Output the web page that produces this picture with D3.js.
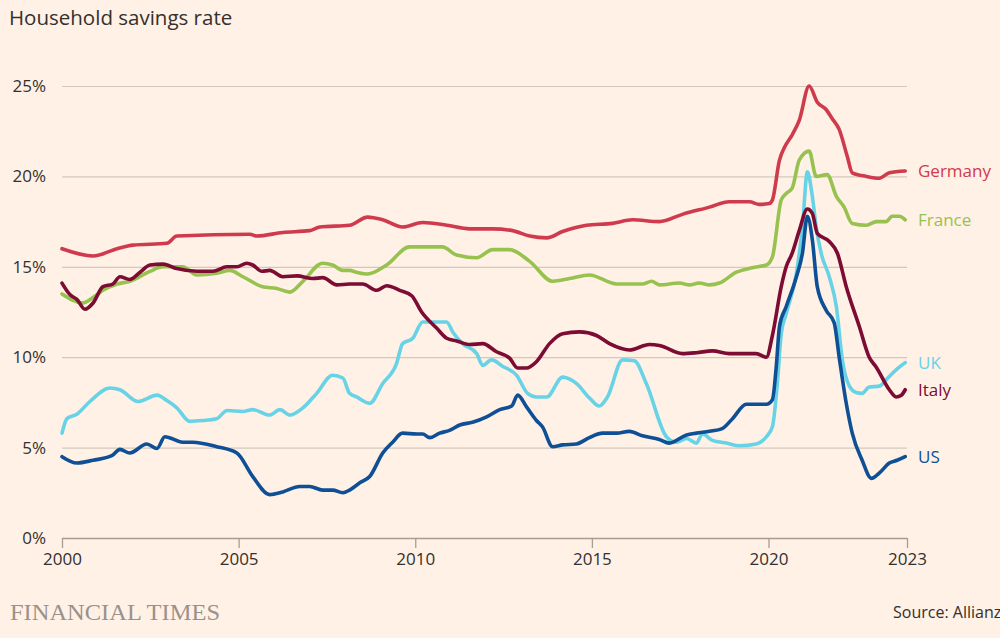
<!DOCTYPE html>
<html>
<head>
<meta charset="utf-8">
<script src="https://cdn.jsdelivr.net/npm/d3@7"></script>
<style>
  html, body { margin: 0; padding: 0; background: #fff1e5; }
  svg { display: block; }
</style>
</head>
<body>
<svg id="chart" width="1000" height="638"></svg>
<script>
// ---- Data ----
const germany = [[2000.00,16.0],[2000.88,15.6],[2001.56,16.0],[2002.01,16.2],[2002.97,16.3],[2003.25,16.7],[2005.32,16.8],[2005.51,16.7],[2006.25,16.9],[2007.01,17.0],[2007.30,17.2],[2008.14,17.3],[2008.65,17.75],[2009.08,17.6],[2009.64,17.2],[2010.21,17.45],[2010.89,17.3],[2011.54,17.1],[2012.19,17.1],[2012.75,17.0],[2013.24,16.7],[2013.72,16.6],[2014.17,16.95],[2014.85,17.3],[2015.58,17.4],[2016.15,17.6],[2016.91,17.5],[2017.56,17.9],[2018.33,18.3],[2018.89,18.6],[2019.46,18.6],[2019.74,18.45],[2020.02,18.5],[2020.11,18.7],[2020.31,20.9],[2020.45,21.6],[2020.67,22.3],[2020.87,23.1],[2021.15,25.0],[2021.38,24.1],[2021.63,23.7],[2021.80,23.2],[2022.00,22.6],[2022.23,21.1],[2022.37,20.2],[2022.77,20.0],[2023.14,19.9],[2023.42,20.2],[2023.87,20.3]];

const france = [[2000.00,13.5],[2000.59,13.0],[2000.88,13.3],[2001.16,13.7],[2001.56,14.05],[2001.92,14.2],[2002.49,14.75],[2002.86,15.0],[2003.42,15.0],[2003.82,14.55],[2004.38,14.65],[2004.75,14.8],[2005.12,14.45],[2005.68,13.9],[2006.08,13.8],[2006.45,13.6],[2006.82,14.2],[2007.38,15.2],[2007.66,15.1],[2007.95,14.8],[2008.14,14.8],[2008.34,14.7],[2008.65,14.6],[2009.19,15.1],[2009.84,16.1],[2010.77,16.1],[2011.17,15.65],[2011.74,15.5],[2012.19,15.95],[2012.67,15.95],[2013.24,15.3],[2013.89,14.2],[2014.37,14.35],[2014.93,14.55],[2015.70,14.05],[2016.43,14.05],[2016.69,14.2],[2016.91,14.0],[2017.48,14.1],[2017.76,14.0],[2018.04,14.1],[2018.33,14.0],[2018.61,14.1],[2019.09,14.7],[2019.54,14.95],[2019.94,15.1],[2020.11,15.55],[2020.36,18.7],[2020.50,19.05],[2020.67,19.35],[2020.87,20.9],[2021.15,21.4],[2021.35,20.0],[2021.66,20.1],[2021.92,18.9],[2022.14,18.3],[2022.37,17.4],[2022.77,17.3],[2023.05,17.5],[2023.33,17.5],[2023.50,17.8],[2023.70,17.8],[2023.87,17.6]];

const italy = [[2000.00,14.1],[2000.23,13.45],[2000.42,13.2],[2000.65,12.65],[2000.88,13.0],[2001.16,13.9],[2001.44,14.05],[2001.64,14.45],[2001.92,14.3],[2002.21,14.7],[2002.49,15.1],[2002.86,15.15],[2003.25,14.9],[2003.82,14.75],[2004.27,14.75],[2004.67,15.0],[2004.95,15.0],[2005.23,15.2],[2005.40,15.1],[2005.66,14.75],[2005.88,14.8],[2006.25,14.45],[2006.65,14.5],[2007.10,14.35],[2007.38,14.4],[2007.78,14.0],[2008.14,14.05],[2008.51,14.05],[2008.91,13.7],[2009.19,13.95],[2009.56,13.7],[2009.90,13.4],[2010.18,12.5],[2010.61,11.6],[2010.89,11.05],[2011.17,10.9],[2011.54,10.7],[2011.91,10.75],[2012.30,10.3],[2012.67,9.95],[2012.90,9.4],[2013.15,9.4],[2013.43,9.75],[2013.80,10.75],[2014.17,11.3],[2014.65,11.4],[2015.13,11.2],[2015.50,10.75],[2016.06,10.4],[2016.63,10.7],[2016.91,10.65],[2017.56,10.2],[2017.96,10.25],[2018.41,10.35],[2018.89,10.2],[2019.65,10.2],[2019.94,10.0],[2020.11,11.2],[2020.36,13.9],[2020.50,15.0],[2020.67,15.75],[2020.87,17.0],[2021.10,18.2],[2021.24,17.95],[2021.38,16.85],[2021.72,16.4],[2021.95,15.75],[2022.20,13.9],[2022.57,11.7],[2022.85,10.0],[2023.05,9.45],[2023.42,8.2],[2023.61,7.8],[2023.76,7.9],[2023.87,8.2]];

const uk = [[2000.00,5.8],[2000.14,6.6],[2000.42,6.85],[2000.79,7.55],[2001.36,8.3],[2001.64,8.2],[2002.15,7.55],[2002.69,7.9],[2002.97,7.6],[2003.25,7.2],[2003.62,6.45],[2003.99,6.5],[2004.38,6.6],[2004.67,7.05],[2005.12,7.0],[2005.40,7.1],[2005.88,6.8],[2006.17,7.1],[2006.45,6.8],[2006.82,7.2],[2007.21,8.0],[2007.66,9.0],[2007.95,8.85],[2008.14,8.0],[2008.34,7.8],[2008.71,7.45],[2009.08,8.55],[2009.47,9.65],[2009.64,10.75],[2009.93,11.05],[2010.21,11.95],[2010.89,11.95],[2011.06,11.4],[2011.34,10.75],[2011.74,10.2],[2011.91,9.55],[2012.16,9.85],[2012.47,9.5],[2012.87,9.0],[2013.18,8.0],[2013.43,7.8],[2013.72,7.8],[2014.17,8.9],[2014.56,8.55],[2014.93,7.75],[2015.21,7.3],[2015.44,7.8],[2015.87,9.85],[2016.20,9.8],[2016.54,8.55],[2017.11,5.6],[2017.39,5.3],[2017.68,5.5],[2017.96,5.25],[2018.13,5.75],[2018.41,5.4],[2018.81,5.25],[2019.17,5.1],[2019.65,5.2],[2019.94,5.6],[2020.11,6.15],[2020.25,8.55],[2020.36,11.3],[2020.50,12.4],[2020.79,14.65],[2020.96,17.2],[2021.10,20.25],[2021.24,18.9],[2021.35,17.2],[2021.49,15.75],[2021.72,14.45],[2021.92,12.8],[2022.09,9.85],[2022.29,8.4],[2022.48,8.05],[2022.65,8.0],[2022.85,8.35],[2023.14,8.4],[2023.33,8.75],[2023.61,9.3],[2023.87,9.7]];

const us = [[2000.00,4.5],[2000.42,4.15],[2000.88,4.3],[2001.41,4.55],[2001.64,4.9],[2001.92,4.7],[2002.40,5.2],[2002.69,4.95],[2002.91,5.6],[2003.42,5.3],[2003.70,5.3],[2004.38,5.05],[2004.95,4.7],[2005.40,3.4],[2005.88,2.4],[2006.25,2.55],[2006.73,2.85],[2007.01,2.85],[2007.38,2.65],[2007.66,2.65],[2007.95,2.5],[2008.14,2.65],[2008.43,3.05],[2008.71,3.4],[2009.08,4.7],[2009.36,5.3],[2009.64,5.8],[2010.04,5.75],[2010.21,5.75],[2010.41,5.55],[2010.69,5.8],[2010.97,5.95],[2011.26,6.25],[2011.62,6.4],[2012.02,6.7],[2012.39,7.1],[2012.73,7.3],[2012.90,7.9],[2013.15,7.25],[2013.43,6.5],[2013.60,6.15],[2013.89,5.05],[2014.17,5.15],[2014.56,5.2],[2014.93,5.55],[2015.30,5.8],[2015.70,5.8],[2016.06,5.9],[2016.43,5.65],[2016.91,5.45],[2017.19,5.25],[2017.68,5.7],[2017.96,5.8],[2018.33,5.9],[2018.69,6.05],[2018.98,6.6],[2019.37,7.4],[2019.94,7.4],[2020.11,7.65],[2020.22,9.5],[2020.31,11.7],[2020.50,12.8],[2020.79,14.45],[2020.96,15.75],[2021.10,17.8],[2021.24,16.5],[2021.38,13.9],[2021.63,12.6],[2021.86,11.9],[2022.00,10.0],[2022.20,7.45],[2022.37,5.8],[2022.65,4.3],[2022.91,3.3],[2023.14,3.6],[2023.42,4.15],[2023.64,4.3],[2023.87,4.5]];

const seriesNames = ["Germany", "France", "UK", "Italy", "US"];
const yTicks = [0, 5, 10, 15, 20, 25];
const xTickValues = [2000, 2005, 2010, 2015, 2020, 2023.92];
const xTickLabels = ["2000", "2005", "2010", "2015", "2020", "2023"];
const xDomain = [2000, 2023.92];

(function () {
  const sans = "'Open Sans', 'Noto Sans', sans-serif";
  const colors = {
    Germany: "#cf3a4c",
    France: "#98c24f",
    UK: "#68d3e6",
    Italy: "#7c0c33",
    US: "#0f4f95"
  };
  const dataByName = { Germany: germany, France: france, UK: uk, Italy: italy, US: us };

  const svg = d3.select("#chart");
  svg.append("rect").attr("width", 1000).attr("height", 638).attr("fill", "#fff1e5");

  const mLeft = 62, mRight = 907, mTop = 86, mBottom = 538;
  const x = d3.scaleLinear().domain(xDomain).range([mLeft, mRight]);
  const y = d3.scaleLinear().domain([0, 25]).range([mBottom, mTop]);

  // Title
  svg.append("text").attr("x", 9).attr("y", 25)
    .style("font-family", sans).attr("font-size", 20.5).attr("fill", "#33302e")
    .text("Household savings rate");

  // Gridlines + y labels
  const yAxis = d3.axisLeft(y).tickValues(yTicks).tickSize(-(mRight - mLeft))
    .tickFormat(d => d + "%");
  const gy = svg.append("g").attr("transform", `translate(${mLeft},0)`).call(yAxis);
  gy.select(".domain").remove();
  gy.selectAll(".tick line").attr("stroke", "#d3c8bd").attr("stroke-width", 1.2);
  gy.selectAll(".tick text").attr("x", -16).attr("font-size", 17)
    .attr("fill", "#33302e").style("font-family", sans);

  // X axis
  const xAxis = d3.axisBottom(x).tickValues(xTickValues).tickSize(10)
    .tickFormat((d, i) => xTickLabels[i]);
  const gx = svg.append("g").attr("transform", `translate(0,${mBottom})`).call(xAxis);
  gx.select(".domain").attr("stroke", "#a69d94").attr("stroke-width", 1.3)
    .attr("d", `M${mLeft},0.5H${mRight}`);
  gx.selectAll(".tick line").attr("stroke", "#a69d94").attr("stroke-width", 1.3);
  gx.selectAll(".tick text").attr("y", 15).attr("font-size", 17)
    .attr("fill", "#33302e").style("font-family", sans);

  // Lines
  const line = d3.line().x(d => x(d[0])).y(d => y(d[1])).curve(d3.curveMonotoneX);
  seriesNames.forEach(name => {
    svg.append("path").datum(dataByName[name])
      .attr("fill", "none").attr("stroke", colors[name])
      .attr("stroke-width", 3.6).attr("stroke-linejoin", "round").attr("stroke-linecap", "round")
      .attr("d", line);
  });

  // End labels
  seriesNames.forEach(name => {
    const d = dataByName[name];
    const last = d[d.length - 1];
    svg.append("text").attr("x", 918).attr("y", y(last[1]))
      .attr("dy", "0.35em").attr("font-size", 17).attr("font-weight", 500)
      .style("font-family", sans)
      .attr("fill", colors[name]).text(name);
  });

  // Footer
  svg.append("text").attr("x", 10).attr("y", 620)
    .style("font-family", "'Liberation Serif', 'DejaVu Serif', serif")
    .attr("font-size", 23).attr("fill", "#9a918a")
    .attr("textLength", 210).attr("lengthAdjust", "spacingAndGlyphs")
    .text("FINANCIAL TIMES");
  svg.append("text").attr("x", 893).attr("y", 618)
    .style("font-family", sans)
    .attr("font-size", 16).attr("fill", "#33302e")
    .text("Source: Allianz");
})();
</script>
</body>
</html>
